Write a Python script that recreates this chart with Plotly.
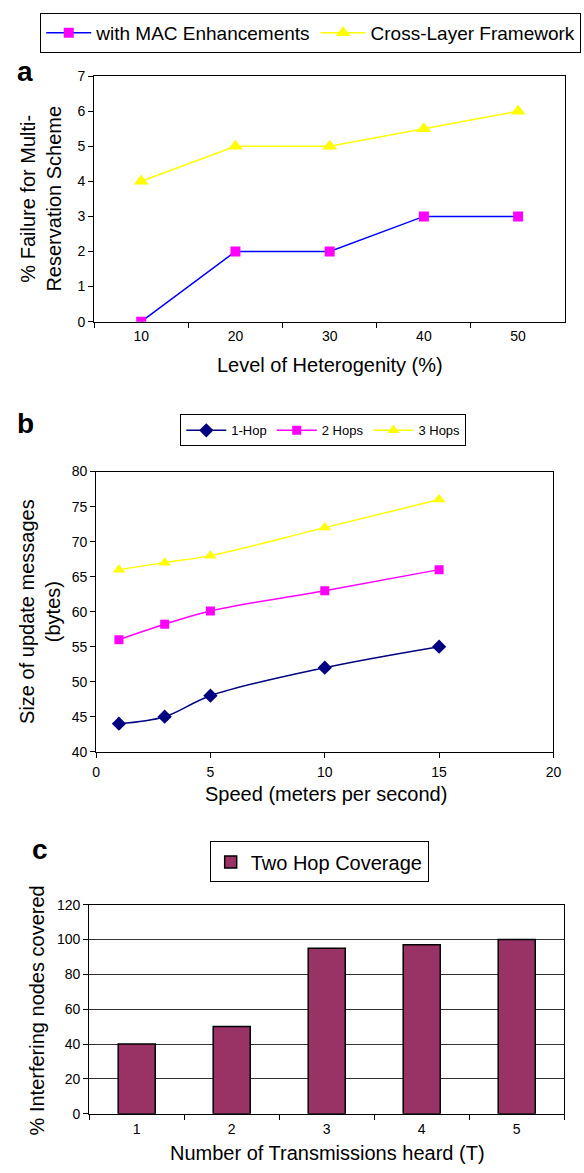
import plotly.graph_objects as go

# ---------------- data ----------------
het_levels = ["10", "20", "30", "40", "50"]
mac_enh = [0, 2, 2, 3, 3]
cross_layer = [4, 5, 5, 5.5, 6]

speed = [1, 3, 5, 10, 15]
hop1 = [44, 45, 48, 52, 55]
hop2 = [56, 58.2, 60.1, 63, 66]
hop3 = [66, 67, 68, 72, 76]

trans_heard = ["1", "2", "3", "4", "5"]
two_hop_cov = [40, 50, 95, 97, 100]

W, H = 584, 1173
FONT = "Liberation Sans, Arial, sans-serif"


def px(x):
    return x / W


def py(y):
    return 1 - y / H


fig = go.Figure()

# ---- panel a ----
fig.add_trace(go.Scatter(x=het_levels, y=mac_enh, name="with MAC Enhancements",
                         mode="lines+markers", xaxis="x", yaxis="y",
                         line=dict(color="#0000FF", width=1.5),
                         marker=dict(symbol="square", size=10, color="#FF00FF"),
                         legend="legend"))
fig.add_trace(go.Scatter(x=het_levels, y=cross_layer, name="Cross-Layer Framework",
                         mode="lines+markers", xaxis="x", yaxis="y",
                         line=dict(color="#FFFF00", width=1.5),
                         marker=dict(symbol="triangle-up", size=13, color="#FFFF00"),
                         legend="legend"))

# ---- panel b ----
fig.add_trace(go.Scatter(x=speed, y=hop1, name="1-Hop", mode="lines+markers",
                         xaxis="x2", yaxis="y2",
                         line=dict(color="#000080", width=1.5, shape="spline"),
                         marker=dict(symbol="diamond", size=11, color="#000080"),
                         legend="legend2"))
fig.add_trace(go.Scatter(x=speed, y=hop2, name="2 Hops", mode="lines+markers",
                         xaxis="x2", yaxis="y2",
                         line=dict(color="#FF00FF", width=1.5, shape="spline"),
                         marker=dict(symbol="square", size=9, color="#FF00FF"),
                         legend="legend2"))
fig.add_trace(go.Scatter(x=speed, y=hop3, name="3 Hops", mode="lines+markers",
                         xaxis="x2", yaxis="y2",
                         line=dict(color="#FFFF00", width=1.5, shape="spline"),
                         marker=dict(symbol="triangle-up", size=11, color="#FFFF00"),
                         legend="legend2"))

# ---- panel c ----
fig.add_trace(go.Bar(x=trans_heard, y=two_hop_cov, name="Two Hop Coverage",
                     xaxis="x3", yaxis="y3",
                     marker=dict(color="#993366", line=dict(color="#000000", width=1.5)),
                     legend="legend3"))

axis_common = dict(showline=True, linecolor="#000000", linewidth=1, mirror=True,
                   ticks="outside", ticklen=5, tickcolor="#000000",
                   tickfont=dict(family=FONT, size=14, color="#000000"),
                   showgrid=False, zeroline=False, fixedrange=True)

fig.update_layout(
    width=W, height=H, autosize=False,
    margin=dict(l=0, r=0, t=0, b=0),
    paper_bgcolor="white", plot_bgcolor="white",
    font=dict(family=FONT, color="#000000"),
    bargap=0.61,
    xaxis=dict(domain=[px(92), px(573)], anchor="y", type="category",
               tickson="boundaries", range=[-0.5, 4.5], ticklabelstandoff=2,
               **axis_common),
    yaxis=dict(domain=[py(318), py(69)], anchor="x", range=[0, 7], dtick=1,
               **axis_common),
    xaxis2=dict(domain=[px(94), px(561)], anchor="y2", range=[0, 20], dtick=5,
                ticklabelstandoff=2, **axis_common),
    yaxis2=dict(domain=[py(754), py(470)], anchor="x2", range=[40, 80], dtick=5,
                **axis_common),
    xaxis3=dict(domain=[px(87), px(572)], anchor="y3", type="category",
                tickson="boundaries", range=[-0.5, 4.5], ticklabelstandoff=2,
                **axis_common),
    yaxis3=dict(domain=[py(1121), py(909)], anchor="x3", range=[0, 120], dtick=20,
                **{**axis_common, "showgrid": True, "gridcolor": "#333333",
                   "gridwidth": 1}),
    legend=dict(orientation="h", x=px(37), y=py(5), xanchor="left", yanchor="top",
                bordercolor="#000000", borderwidth=1, bgcolor="white", itemwidth=45,
                font=dict(family=FONT, size=19, color="#000000")),
    legend2=dict(orientation="h", x=px(180), y=py(412), xanchor="left", yanchor="top",
                 bordercolor="#000000", borderwidth=1, bgcolor="white", itemwidth=40,
                 font=dict(family=FONT, size=13, color="#000000")),
    legend3=dict(orientation="h", x=px(210), y=py(845), xanchor="left", yanchor="top",
                 bordercolor="#000000", borderwidth=1, bgcolor="white",
                 font=dict(family=FONT, size=20, color="#000000")),
    showlegend=True,
)

ann = []
# panel letters
ann.append(dict(text="<b>a</b>", x=px(21), y=py(64), font=dict(size=28)))
ann.append(dict(text="<b>b</b>", x=px(22), y=py(421), font=dict(size=28)))
ann.append(dict(text="<b>c</b>", x=px(37), y=py(853), font=dict(size=28)))
# axis titles
ann.append(dict(text="% Failure for Multi-<br>Reservation Scheme", x=px(38), y=py(193),
                textangle=-90, font=dict(size=20)))
ann.append(dict(text="Level of Heterogenity (%)", x=px(333), y=py(362), font=dict(size=20)))
ann.append(dict(text="Size of update messages<br>(bytes)", x=px(36), y=py(612),
                textangle=-90, font=dict(size=20)))
ann.append(dict(text="Speed (meters per second)", x=px(329), y=py(797), font=dict(size=20)))
ann.append(dict(text="% Interfering nodes covered", x=px(34), y=py(1016),
                textangle=-90, font=dict(size=20)))
ann.append(dict(text="Number of Transmissions heard (T)", x=px(330), y=py(1161),
                font=dict(size=20)))
for a in ann:
    a.update(xref="paper", yref="paper", showarrow=False, xanchor="center",
             yanchor="middle")
    a["font"] = dict(family=FONT, color="#000000", **a["font"])
fig.update_layout(annotations=ann)

fig.write_html("out.html", config={"displayModeBar": False},
               post_script="document.body.style.margin='0';")
